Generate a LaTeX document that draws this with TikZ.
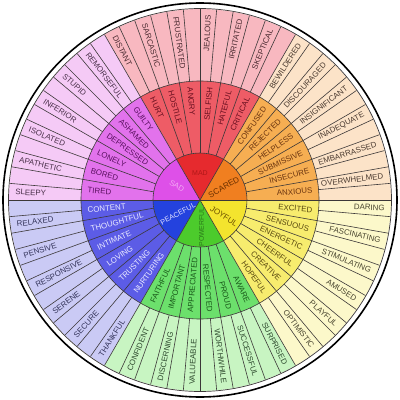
\documentclass[tikz,border=0pt]{standalone}
\usepackage{fontspec}
\setmainfont{Liberation Sans}
\definecolor{c0}{HTML}{F07F20}\definecolor{m0}{HTML}{F6AE52}\definecolor{o0}{HTML}{FCE3C8}
\definecolor{c1}{HTML}{E62A2E}\definecolor{m1}{HTML}{EE5C66}\definecolor{o1}{HTML}{F8B8C0}
\definecolor{c2}{HTML}{DE50E8}\definecolor{m2}{HTML}{E272EC}\definecolor{o2}{HTML}{F5CAF6}
\definecolor{c3}{HTML}{2442DE}\definecolor{m3}{HTML}{5C5CE6}\definecolor{o3}{HTML}{CACAF5}
\definecolor{c4}{HTML}{4CCB2C}\definecolor{m4}{HTML}{6CE06C}\definecolor{o4}{HTML}{C8F5C2}
\definecolor{c5}{HTML}{F4E42E}\definecolor{m5}{HTML}{F7EC6E}\definecolor{o5}{HTML}{FCF8CA}
\definecolor{mt0}{HTML}{6A3410}\definecolor{mt1}{HTML}{6A1020}\definecolor{mt2}{HTML}{5A1060}
\definecolor{mt3}{HTML}{ECECFF}\definecolor{mt4}{HTML}{1A5A1A}\definecolor{mt5}{HTML}{5A4A10}
\definecolor{ot0}{HTML}{4A3A30}\definecolor{ot1}{HTML}{4A2A30}\definecolor{ot2}{HTML}{4A304A}
\definecolor{ot3}{HTML}{34345A}\definecolor{ot4}{HTML}{2E4A2E}\definecolor{ot5}{HTML}{4A4630}
\definecolor{linec}{HTML}{3C3838}
\definecolor{madt}{HTML}{B01818}
\definecolor{sadt}{HTML}{F4AAF4}
\definecolor{scaredt}{HTML}{6B3000}
\definecolor{joyt}{HTML}{6B5000}
\definecolor{powt}{HTML}{2A7A1A}
\definecolor{peacet}{HTML}{E0E0FF}
\tikzset{
  midtext/.style={inner sep=0pt, font=\fontsize{7.9}{8}\selectfont},
  outtext/.style={inner sep=0pt, font=\fontsize{7.9}{8}\selectfont},
  coretext/.style={inner sep=0pt, font=\fontsize{7}{7}\selectfont},
  sep/.style={draw=linec, line width=0.6pt}
}
\begin{document}
\begin{tikzpicture}[x=1pt,y=1pt]
\useasboundingbox (-200,-200) rectangle (200,200);
\fill[white] (-200,-200) rectangle (200,200);
% sectors
\foreach \p in {0,...,5}{
  \pgfmathsetmacro\a{60*\p}
  \pgfmathsetmacro\b{60*\p+60}
  \fill[o\p] (\a:119) arc[start angle=\a, end angle=\b, radius=119] -- (\b:191) arc[start angle=\b, end angle=\a, radius=191] -- cycle;
  \fill[m\p] (\a:47) arc[start angle=\a, end angle=\b, radius=47] -- (\b:119) arc[start angle=\b, end angle=\a, radius=119] -- cycle;
  \fill[c\p] (0,0) -- (\a:47) arc[start angle=\a, end angle=\b, radius=47] -- cycle;
}
% separators
\foreach \k in {0,...,71}{
  \draw[sep] (5*\k:119) -- (5*\k:191);
}
\foreach \k in {0,...,35}{
  \draw[sep] (10*\k:47) -- (10*\k:119);
}
\foreach \k in {0,...,5}{
  \draw[sep] (0,0) -- (60*\k:47);
}
\draw[sep] (0,0) circle[radius=47];
\draw[sep] (0,0) circle[radius=119];
\draw[linec, line width=0.7pt] (0,0) circle[radius=191.5];
\draw[black, line width=1.6pt] (0,0) circle[radius=197];
% middle ring labels
\foreach \w [count=\i from 0] in {ANXIOUS,INSECURE,SUBMISSIVE,HELPLESS,REJECTED,CONFUSED,CRITICAL,HATEFUL,SELFISH,ANGRY,HOSTILE,HURT,GUILTY,ASHAMED,DEPRESSED,LONELY,BORED,TIRED,CONTENT,THOUGHTFUL,INTIMATE,LOVING,TRUSTING,NURTURING,FAITHFUL,IMPORTANT,APPRECIATED,RESPECTED,PROUD,AWARE,HOPEFUL,CREATIVE,CHEERFUL,ENERGETIC,SENSUOUS,EXCITED}{
  \pgfmathsetmacro\ang{10*\i+5}
  \pgfmathtruncatemacro\p{\i/6}
  \pgfmathtruncatemacro\lft{(\ang>90)&&(\ang<270)}
  \ifnum\lft=1 \pgfmathsetmacro\rot{\ang-180}\def\anc{west}\else\pgfmathsetmacro\rot{\ang}\def\anc{east}\fi
  \node[midtext, text=mt\p, rotate=\rot, anchor=\anc] (m\i) at (\ang:113) {\w};
}
% outer ring labels
\foreach \w [count=\i from 0] in {OVERWHELMED,EMBARRASSED,INADEQUATE,INSIGNIFICANT,DISCOURAGED,BEWILDERED,SKEPTICAL,IRRITATED,JEALOUS,FRUSTRATED,SARCASTIC,DISTANT,REMORSEFUL,STUPID,INFERIOR,ISOLATED,APATHETIC,SLEEPY,RELAXED,PENSIVE,RESPONSIVE,SERENE,SECURE,THANKFUL,CONFIDENT,DISCERNING,VALUEABLE,WORTHWHILE,SUCCESSFUL,SURPRISED,OPTIMISTIC,PLAYFUL,AMUSED,STIMULATING,FASCINATING,DARING}{
  \pgfmathsetmacro\ang{10*\i+7.5}
  \pgfmathtruncatemacro\p{\i/6}
  \pgfmathtruncatemacro\lft{(\ang>90)&&(\ang<270)}
  \ifnum\lft=1 \pgfmathsetmacro\rot{\ang-180}\def\anc{west}\else\pgfmathsetmacro\rot{\ang}\def\anc{east}\fi
  \node[outtext, text=ot\p, rotate=\rot, anchor=\anc] (o\i) at (\ang:185) {\w};
}
% core labels
\node[coretext, text=madt] (mad) at (90:27) {MAD};
\node[coretext, text=sadt, rotate=-30, font=\fontsize{7.6}{8}\selectfont] (sad) at (149:27) {SAD};
\node[coretext, text=scaredt, rotate=30, font=\fontsize{8.2}{9}\selectfont] (scared) at (28:27) {SCARED};
\node[coretext, text=joyt, rotate=-33, font=\fontsize{8}{9}\selectfont] (joyful) at (-34:29) {JOYFUL};
\node[coretext, text=powt, rotate=90, font=\fontsize{6.9}{7}\selectfont] (powerful) at (-87:27) {POWERFUL};
\node[coretext, text=peacet, rotate=28, font=\fontsize{7.3}{8}\selectfont] (peaceful) at (-148:26) {PEACEFUL};
\end{tikzpicture}
\end{document}
